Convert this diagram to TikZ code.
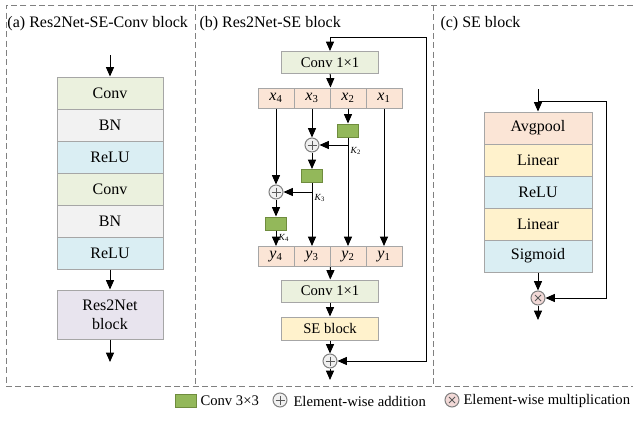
\documentclass[tikz,border=0pt]{standalone}
\usepackage{fontspec}
\setmainfont{Liberation Serif}
\usetikzlibrary{arrows.meta,positioning,shapes}

\definecolor{convgreen}{HTML}{EBF1DE}
\definecolor{bngray}{HTML}{F2F2F2}
\definecolor{relublue}{HTML}{DAEEF3}
\definecolor{lavender}{HTML}{E8E4EE}
\definecolor{peach}{HTML}{FBE5D6}
\definecolor{lightyellow}{HTML}{FFF2CC}
\definecolor{kgreen}{HTML}{93B85A}
\definecolor{kborder}{HTML}{6F8C3E}
\definecolor{boxgray}{HTML}{A6A6A6}
\definecolor{opfill}{HTML}{F0F0F0}
\definecolor{mulfill}{HTML}{F2D9D7}
\definecolor{linegray}{HTML}{3F3F3F}

\newlength{\pu}
\setlength{\pu}{0.75pt}

\begin{document}
\begin{tikzpicture}[x=0.75pt, y=-0.75pt, line width=0.75pt,
    >={Triangle[length=7pt,width=6pt]},
    layer/.style={draw=boxgray, minimum width=106\pu, minimum height=32\pu, inner sep=0pt, font=\fontsize{12}{14}\selectfont},
    wide/.style={draw=boxgray, minimum width=97\pu, minimum height=22\pu, inner sep=0pt, font=\fontsize{11}{13}\selectfont},
    cell/.style={draw=boxgray, fill=peach, minimum width=36\pu, minimum height=20\pu, inner sep=0pt, font=\fontsize{12}{14}\selectfont},
    kbox/.style={draw=kborder, fill=kgreen, minimum width=21\pu, minimum height=13\pu, inner sep=0pt},
    addop/.style={circle, draw=gray, fill=opfill, minimum size=14\pu, inner sep=0pt,
      path picture={\draw[gray!70!black, line width=0.6pt] (path picture bounding box.center) ++(-4.5,0) -- ++(9,0)
                                      (path picture bounding box.center) ++(0,-4.5) -- ++(0,9);}},
    mulop/.style={circle, draw=gray, fill=mulfill, minimum size=14\pu, inner sep=0pt,
      path picture={\draw[gray!70!black, line width=0.6pt] (path picture bounding box.center) ++(-3,-3) -- ++(6,6)
                                      (path picture bounding box.center) ++(-3,3) -- ++(6,-6);}},
    klabel/.style={font=\fontsize{7}{8}\selectfont, inner sep=1.5pt},
    title/.style={anchor=west, font=\fontsize{12}{14}\selectfont, inner sep=0pt},
    legend/.style={anchor=west, font=\fontsize{11}{13}\selectfont, inner sep=0pt},
    panelline/.style={draw=gray, line width=0.6pt, dash pattern=on 4.5pt off 2.5pt}]
      \useasboundingbox (0,0) rectangle (633,421);
      % frames
      \draw[panelline] (633,5) -- (6,5) -- (6,386) -- (633,386)
                       (195,5) -- (195,386) (433,5) -- (433,386);
      \node[title] (ta) at (7,24) {(a) Res2Net-SE-Conv block};
      \node[title] (tb) at (199,24) {(b) Res2Net-SE block};
      \node[title] (tc) at (440,24) {(c) SE block};

      % (a)
      \node[layer, fill=convgreen] (a1) at (110,93) {Conv};
      \node[layer, fill=bngray] (a2) at (110,125) {BN};
      \node[layer, fill=relublue] (a3) at (110,157) {ReLU};
      \node[layer, fill=convgreen] (a4) at (110,189) {Conv};
      \node[layer, fill=bngray] (a5) at (110,221) {BN};
      \node[layer, fill=relublue] (a6) at (110,253) {ReLU};
      \node[layer, fill=lavender, minimum height=49\pu, align=center] (res) at (110,314.5) {Res2Net\\block};
      \coordinate (ain) at (110,55);
      \coordinate (aout) at (110,362);
      \draw[->] (ain) -- (a1);
      \draw[->] (a6) -- (res);
      \draw[->] (res) -- (aout);

      % (b)
      \coordinate (bin) at (330,37);
      \coordinate (bright) at (426,37);
      \node[wide, fill=convgreen] (c1) at (330,62.5) {Conv 1×1};
      \node[cell] (x4) at (276,98) {\textit{x}\textsubscript{4}};
      \node[cell] (x3) at (312,98) {\textit{x}\textsubscript{3}};
      \node[cell] (x2) at (348,98) {\textit{x}\textsubscript{2}};
      \node[cell] (x1) at (384,98) {\textit{x}\textsubscript{1}};
      \node[kbox] (g2) at (348,130.5) {};
      \node[addop] (p3) at (312,145) {};
      \node[kbox] (g3) at (312,176) {};
      \node[addop] (p4) at (276,192) {};
      \node[kbox] (g4) at (276,223.5) {};
      \node[cell] (y4) at (276,256.5) {\textit{y}\textsubscript{4}};
      \node[cell] (y3) at (312,256.5) {\textit{y}\textsubscript{3}};
      \node[cell] (y2) at (348,256.5) {\textit{y}\textsubscript{2}};
      \node[cell] (y1) at (384,256.5) {\textit{y}\textsubscript{1}};
      \node[wide, fill=convgreen] (c2) at (330,291) {Conv 1×1};
      \node[wide, fill=lightyellow, minimum height=23\pu] (se) at (330,328.5) {SE block};
      \node[addop] (pout) at (330,361) {};
      \coordinate (bout) at (330,380);
      \draw[->] (bin) -- (c1);
      \draw[->] (c1) -- (x3.north east);
      \draw[->] (x4) -- (p4);
      \draw[->] (x3) -- (p3);
      \draw[->] (x2) -- (g2);
      \draw[->] (g2) -- (y2);
      \draw[->] (g2 |- p3) -- (p3);
      \node[klabel, anchor=north west] (k2) at (g2 |- p3) {\textit{K}\textsubscript{2}};
      \draw[->] (p3) -- (g3);
      \draw[->] (g3) -- (y3);
      \draw[->] (g3 |- p4) -- (p4);
      \node[klabel, anchor=north west] (k3) at (g3 |- p4) {\textit{K}\textsubscript{3}};
      \draw[->] (p4) -- (g4);
      \draw[->] (g4) -- (y4) node[klabel, midway, right] (k4) {\textit{K}\textsubscript{4}};
      \draw[->] (x1) -- (y1);
      \draw[->] (y3.south east) -- (c2);
      \draw[->] (c2) -- (se);
      \draw[->] (se) -- (pout);
      \draw[->] (pout) -- (bout);
      \draw[->] (bin) -- (bright) |- (pout);

      % (c)
      \node[layer, minimum width=108\pu, fill=peach] (s1) at (538,128) {Avgpool};
      \node[layer, minimum width=108\pu, fill=lightyellow] (s2) at (538,160) {Linear};
      \node[layer, minimum width=108\pu, fill=relublue] (s3) at (538,192) {ReLU};
      \node[layer, minimum width=108\pu, fill=lightyellow] (s4) at (538,224) {Linear};
      \node[layer, minimum width=108\pu, fill=relublue] (s5) at (538,256) {Sigmoid};
      \node[mulop] (m1) at (538,298) {};
      \coordinate (cin) at (538,89);
      \coordinate (cskip) at (538,101);
      \coordinate (cright) at (606,101);
      \coordinate (cout) at (538,320);
      \draw[->] (cin) -- (s1);
      \draw[->] (cskip) -- (cright) |- (m1);
      \draw[->] (s5) -- (m1);
      \draw[->] (m1) -- (cout);

      % legend
      \node[kbox] (lg) at (186,401) {};
      \node[legend] (lgt) at (200,401) {Conv 3×3};
      \node[addop] (la) at (280,400) {};
      \node[legend] (lat) at (293,401) {Element-wise addition};
      \node[mulop] (lm) at (452,400) {};
      \node[legend] (lmt) at (463,401) {Element-wise multiplication};
\end{tikzpicture}
\end{document}
